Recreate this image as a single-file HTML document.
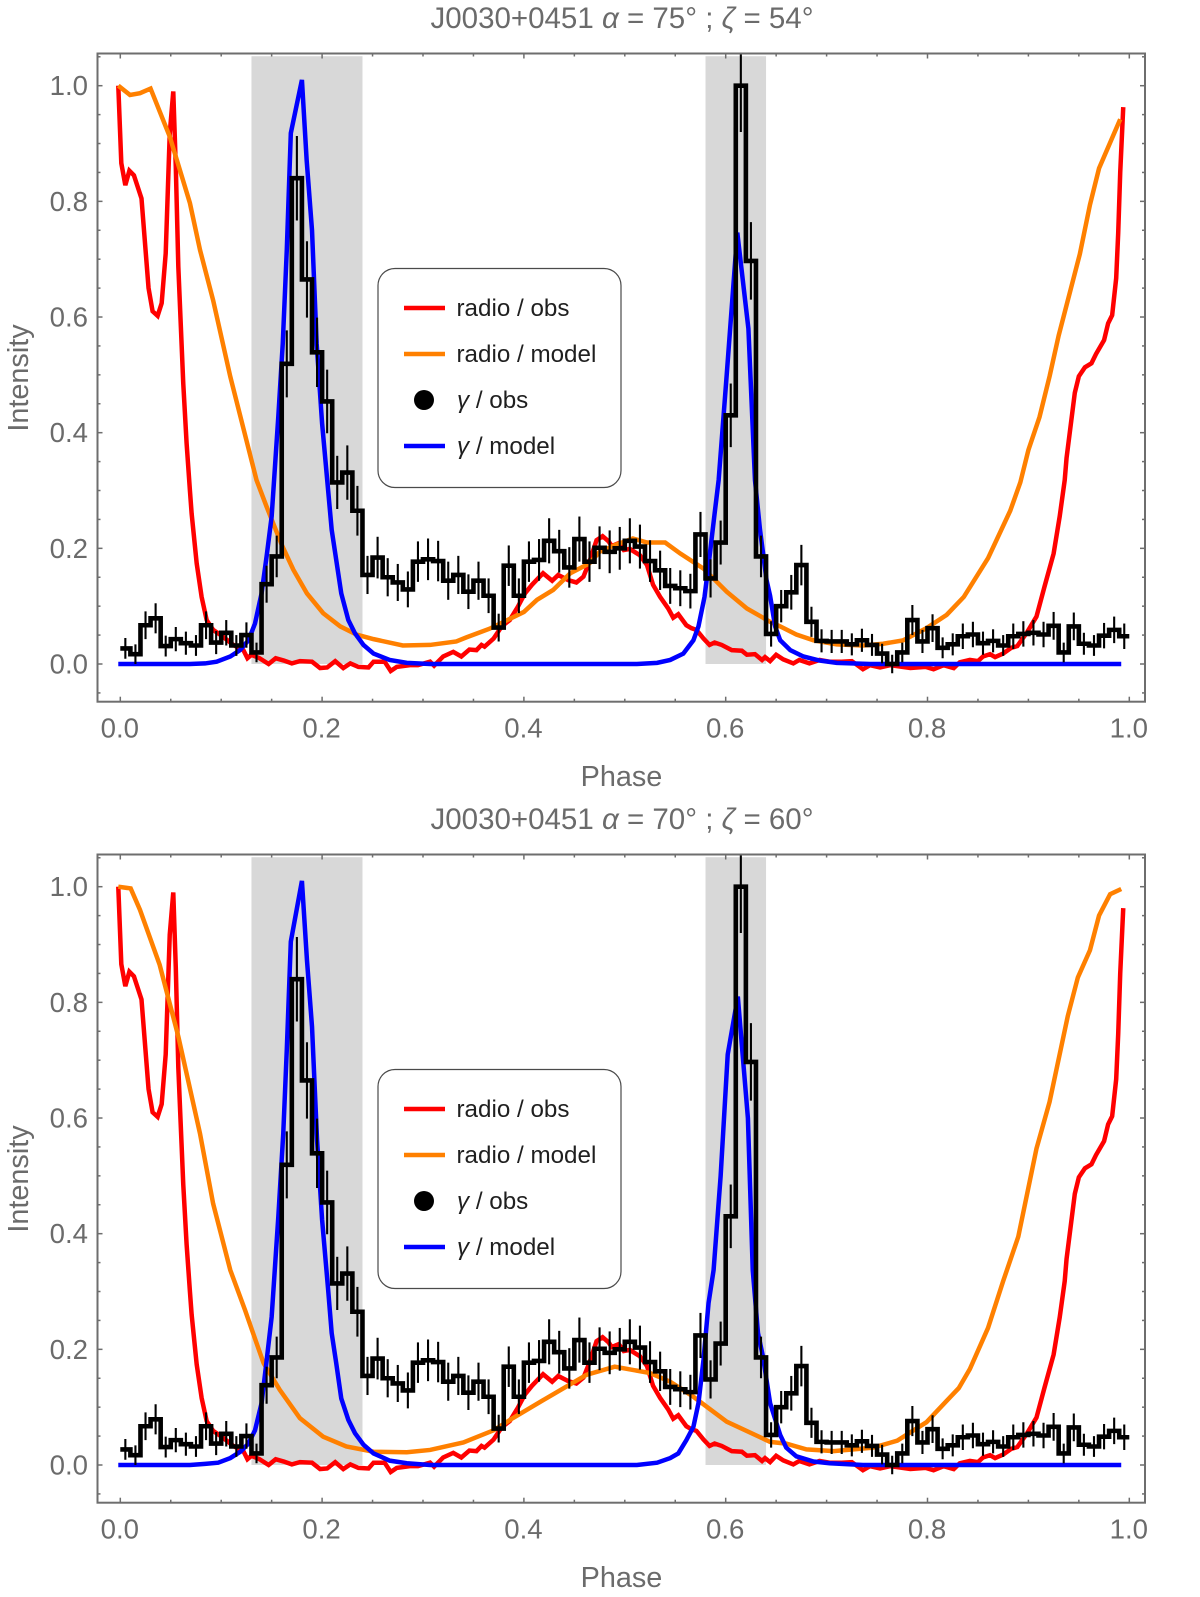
<!DOCTYPE html>
<html lang="en">
<head>
<meta charset="utf-8">
<title>J0030+0451 pulse profiles</title>
<style>
html,body{margin:0;padding:0;background:#fff;}
svg{display:block;font-family:"Liberation Sans",sans-serif;}
.tick-label{font-size:27.6px;fill:#6b6b6b;}
.axis-title{font-size:28.8px;fill:#6b6b6b;}
.chart-title{font-size:29.5px;fill:#6b6b6b;}
.legend-text{font-size:24.2px;fill:#1f1f1f;}
</style>
</head>
<body>
<svg id="figure" xmlns="http://www.w3.org/2000/svg" width="1200" height="1597" viewBox="0 0 1200 1597">
  <rect width="1200" height="1597" fill="#fff"/>
  <g id="panel-top">
    <text class="chart-title" x="622" y="28" text-anchor="middle">J0030+0451 <tspan font-style="italic">α</tspan> = 75° ; <tspan font-style="italic">ζ</tspan> = 54°</text>
    <g class="marks"></g>
    <g>
      <rect x="378" y="268.5" width="243" height="219" rx="17" fill="#fff" stroke="#4a4a4a" stroke-width="1.2"/>
      <line x1="404" x2="445" y1="308" y2="308" stroke="#ff0000" stroke-width="4.4"/>
      <text class="legend-text" x="456.5" y="316">radio / obs</text>
      <line x1="404" x2="445" y1="354" y2="354" stroke="#ff8000" stroke-width="4.4"/>
      <text class="legend-text" x="456.5" y="362">radio / model</text>
      <circle cx="424" cy="400" r="10" fill="#000"/>
      <text class="legend-text" x="457" y="408"><tspan font-style="italic">γ</tspan> / obs</text>
      <line x1="404" x2="445" y1="446" y2="446" stroke="#0000ff" stroke-width="4.4"/>
      <text class="legend-text" x="457" y="454"><tspan font-style="italic">γ</tspan> / model</text>
    </g>
  </g>
  <g id="panel-bottom" transform="translate(0,801)">
    <text class="chart-title" x="622" y="28" text-anchor="middle">J0030+0451 <tspan font-style="italic">α</tspan> = 70° ; <tspan font-style="italic">ζ</tspan> = 60°</text>
    <g class="marks"></g>
    <g>
      <rect x="378" y="268.5" width="243" height="219" rx="17" fill="#fff" stroke="#4a4a4a" stroke-width="1.2"/>
      <line x1="404" x2="445" y1="308" y2="308" stroke="#ff0000" stroke-width="4.4"/>
      <text class="legend-text" x="456.5" y="316">radio / obs</text>
      <line x1="404" x2="445" y1="354" y2="354" stroke="#ff8000" stroke-width="4.4"/>
      <text class="legend-text" x="456.5" y="362">radio / model</text>
      <circle cx="424" cy="400" r="10" fill="#000"/>
      <text class="legend-text" x="457" y="408"><tspan font-style="italic">γ</tspan> / obs</text>
      <line x1="404" x2="445" y1="446" y2="446" stroke="#0000ff" stroke-width="4.4"/>
      <text class="legend-text" x="457" y="454"><tspan font-style="italic">γ</tspan> / model</text>
    </g>
  </g>
</svg>
<script>
const xTickLabels = ["0.0", "0.2", "0.4", "0.6", "0.8", "1.0"];
const xTickValues = [0, 0.2, 0.4, 0.6, 0.8, 1];
const yTickLabels = ["0.0", "0.2", "0.4", "0.6", "0.8", "1.0"];
const yTickValues = [0, 0.2, 0.4, 0.6, 0.8, 1];
const shadedBandStart = [0.13, 0.58];
const shadedBandEnd = [0.24, 0.64];
const gammaBinWidth = 0.01;
const gammaObsIntensity = [.027,.017,.067,.079,.031,.043,.036,.032,.067,.037,.054,.032,.05,.02,.138,.186,.519,.84,.665,.539,.454,.314,.331,.265,.154,.184,.15,.141,.129,.177,.181,.178,.144,.154,.125,.144,.118,.063,.17,.118,.177,.18,.213,.195,.167,.216,.177,.201,.194,.2,.213,.203,.178,.162,.135,.131,.126,.224,.148,.21,.43,1.0,.697,.186,.052,.10,.124,.171,.073,.04,.039,.039,.034,.041,.033,.018,0,.02,.076,.039,.062,.028,.034,.048,.051,.036,.04,.032,.048,.052,.054,.051,.066,.02,.065,.035,.032,.049,.059,.048];
const gammaObsError = [.018,.017,.024,.026,.018,.021,.02,.018,.024,.02,.022,.018,.022,.017,.032,.036,.058,.073,.066,.06,.055,.046,.047,.043,.033,.036,.033,.032,.031,.035,.036,.035,.033,.033,.03,.033,.03,.024,.035,.03,.035,.036,.039,.037,.035,.039,.035,.037,.037,.037,.039,.038,.036,.034,.031,.031,.03,.039,.033,.038,.055,.08,.067,.036,.022,.028,.03,.035,.026,.02,.02,.02,.019,.02,.019,.017,.016,.017,.026,.02,.024,.018,.019,.022,.022,.02,.02,.018,.022,.022,.022,.022,.024,.017,.024,.019,.018,.022,.023,.022];
const radioObsPhase = [-.002,.001,.005,.009,.0135,.021,.028,.032,.037,.041,.045,.049,.0525,.055,.0575,.0624,.0657,.069,.0707,.0757,.0806,.0856,.092,.102,.112,.122,.126,.13,.138,.147,.154,.162,.17,.178,.19,.198,.205,.213,.221,.228,.236,.246,.251,.262,.268,.274,.287,.295,.307,.311,.32,.33,.338,.346,.353,.358,.361,.37,.378,.386,.394,.401,.408,.419,.428,.434,.444,.452,.459,.465,.472,.478,.484,.487,.494,.499,.505,.515,.522,.528,.535,.543,.548,.553,.561,.566,.571,.578,.584,.589,.596,.606,.616,.621,.629,.636,.639,.644,.65,.657,.667,.673,.683,.693,.703,.715,.725,.736,.743,.753,.763,.783,.798,.806,.816,.826,.832,.842,.85,.855,.862,.867,.875,.883,.889,.898,.908,.916,.925,.931,.936,.9378,.946,.95,.956,.9625,.967,.975,.979,.983,.987,.989,.991,.994];
const radioObsIntensity = [1,.866,.828,.853,.845,.805,.65,.61,.602,.624,.71,.917,.99,.86,.687,.485,.382,.3,.26,.174,.116,.076,.059,.047,.033,.024,.01,.016,.01,0,.01,.006,.001,.005,.004,-.007,-.006,.005,-.007,.001,-.005,-.006,.004,.004,-.012,-.005,-.002,-.002,.004,-.003,.013,.021,.013,.025,.024,.033,.03,.044,.065,.076,.099,.122,.137,.157,.144,.154,.145,.141,.151,.177,.214,.221,.212,.204,.209,.197,.199,.188,.171,.137,.116,.096,.08,.086,.067,.062,.059,.044,.033,.037,.033,.024,.023,.016,.017,.007,.012,.005,.016,.008,.001,.007,.001,.007,.004,.004,.005,-.009,-.002,-.006,-.002,-.007,-.005,-.009,-.002,-.007,.003,.007,.005,.013,.017,.012,.018,.028,.031,.053,.082,.134,.191,.255,.318,.356,.469,.4975,.513,.52,.536,.56,.589,.603,.667,.745,.85,.963];
const gammaModelTopPhase = [-.002,.069,.084,.0955,.109,.1186,.127,.1335,.14,.145,.15,.1566,.161,.165,.169,.18,.1847,.19,.1946,.2,.206,.2095,.214,.219,.226,.2326,.241,.251,.267,.284,.307,.512,.532,.545,.558,.568,.573,.579,.584,.589,.593,.601,.6115,.6225,.629,.634,.6405,.644,.649,.654,.664,.677,.693,.71,.743,.992];
const gammaModelTopIntensity = [0,0,.001,.004,.013,.024,.041,.07,.122,.186,.255,.428,.554,.716,.918,1.01,.871,.75,.554,.416,.3,.232,.18,.122,.076,.053,.033,.018,.007,.002,0,0,.002,.007,.018,.041,.065,.116,.186,.26,.318,.5,.746,.58,.318,.232,.145,.118,.065,.041,.024,.013,.006,.002,0,0];
const radioModelTopPhase = [-.002,.0096,.0195,.03,.049,.069,.079,.092,.109,.135,.145,.16,.1715,.185,.201,.218,.234,.251,.28,.307,.333,.343,.366,.4,.413,.429,.446,.465,.475,.491,.508,.522,.54,.555,.578,.601,.621,.644,.654,.67,.687,.71,.736,.756,.776,.799,.819,.836,.86,.882,.892,.9,.911,.921,.93,.951,.961,.97,.991];
const radioModelTopIntensity = [1,.984,.987,.995,.912,.797,.716,.629,.497,.318,.272,.206,.163,.122,.088,.065,.051,.043,.032,.033,.039,.046,.061,.09,.111,.128,.157,.174,.194,.206,.217,.21,.21,.191,.165,.125,.096,.073,.065,.051,.041,.034,.032,.035,.041,.062,.085,.116,.183,.265,.314,.37,.427,.4975,.568,.709,.794,.857,.942];
const gammaModelBottomPhase = [-.002,.069,.084,.097,.109,.119,.127,.1335,.14,.145,.15,.1566,.1615,.165,.169,.18,.185,.19,.195,.2,.206,.2095,.214,.219,.226,.2326,.241,.251,.267,.284,.307,.512,.532,.545,.553,.561,.568,.573,.578,.583,.588,.595,.602,.612,.622,.6268,.632,.637,.644,.654,.66,.67,.687,.703,.736,.992];
const gammaModelBottomIntensity = [0,0,.002,.004,.012,.023,.037,.06,.107,.18,.256,.429,.573,.718,.905,1.01,.873,.758,.562,.424,.303,.228,.176,.115,.078,.055,.035,.02,.0075,.003,0,0,.004,.012,.02,.043,.066,.107,.182,.28,.337,.5,.71,.81,.6,.337,.228,.187,.107,.052,.03,.015,.006,.003,0,0];
const radioModelBottomPhase = [-.002,.0103,.0195,.039,.0575,.079,.092,.109,.1236,.142,.158,.178,.201,.224,.251,.284,.307,.34,.37,.389,.419,.462,.49,.525,.545,.568,.601,.644,.66,.68,.707,.746,.77,.799,.819,.831,.842,.86,.875,.89,.908,.921,.939,.949,.961,.97,.981,.992];
const radioModelBottomIntensity = [1,.997,.96,.865,.741,.573,.452,.337,.268,.176,.13,.081,.049,.032,.023,.022,.026,.039,.06,.081,.112,.156,.17,.159,.144,.118,.075,.04,.037,.027,.024,.03,.042,.074,.111,.133,.166,.237,.318,.395,.547,.628,.776,.843,.89,.95,.987,.996];

const NS = "http://www.w3.org/2000/svg";
const plotLeft = 97.5, plotRight = 1147.8, plotTop = 53.5, plotBottom = 701.7;
const xScale = p => 120.3 + 1009 * p;
const yScale = v => 664 - 578.3 * v;
const bandTopValue = 1.051;

function make(tag, attrs, parent) {
  const el = document.createElementNS(NS, tag);
  for (const k in attrs) el.setAttribute(k, attrs[k]);
  parent.appendChild(el);
  return el;
}
function linePath(xs, ys) {
  return xs.map((x, i) => (i ? "L" : "M") + xScale(x).toFixed(2) + " " + yScale(ys[i]).toFixed(2)).join("");
}
function stepPath(values) {
  let d = "";
  values.forEach((v, i) => {
    const y = yScale(v).toFixed(2);
    d += (i ? "L" : "M") + xScale(i * gammaBinWidth).toFixed(2) + " " + y;
    d += "L" + xScale((i + 1) * gammaBinWidth).toFixed(2) + " " + y;
  });
  return d;
}

function drawPanel(root, clipId, radioModelPhase, radioModelIntensity, gammaModelPhase, gammaModelIntensity) {
  const g = root.querySelector(".marks");
  const defs = make("defs", {}, g);
  const clip = make("clipPath", { id: clipId }, defs);
  make("rect", { x: plotLeft, y: plotTop, width: plotRight - plotLeft, height: plotBottom - plotTop }, clip);

  shadedBandStart.forEach((start, i) => {
    const band = make("rect", {
      x: xScale(start), y: yScale(bandTopValue),
      width: xScale(shadedBandEnd[i]) - xScale(start),
      height: yScale(0) - yScale(bandTopValue), fill: "#d8d8d8"
    }, g);
    
    
  });

  const plot = make("g", { "clip-path": "url(#" + clipId + ")", fill: "none", "stroke-linejoin": "miter" }, g);
  
  

  const radioObs = make("path", { d: linePath(radioObsPhase, radioObsIntensity), stroke: "#ff0000", "stroke-width": 4.5 }, plot);
  
  

  const radioModel = make("path", { d: linePath(radioModelPhase, radioModelIntensity), stroke: "#ff8000", "stroke-width": 4.5 }, plot);
  
  

  const gammaModel = make("path", { d: linePath(gammaModelPhase, gammaModelIntensity), stroke: "#0000ff", "stroke-width": 4.5 }, plot);
  
  

  gammaObsIntensity.forEach((v, i) => {
    const cx = xScale((i + 0.5) * gammaBinWidth);
    const bar = make("line", {
      x1: cx, x2: cx, y1: yScale(v - gammaObsError[i]), y2: yScale(v + gammaObsError[i]),
      stroke: "#000", "stroke-width": 2.1
    }, plot);
    
    
  });

  const gammaObs = make("path", { d: stepPath(gammaObsIntensity), stroke: "#000", "stroke-width": 4.6 }, plot);
  
  

  const frame = make("rect", {
    x: plotLeft, y: plotTop, width: 1047.5, height: plotBottom - plotTop,
    fill: "none", stroke: "#6e6e6e", "stroke-width": 2
  }, g);
  
  

  const ticks = make("g", { stroke: "#6e6e6e", "stroke-width": 1.5 }, g);
  
  
  for (let k = 0; k <= 20; k++) {
    const len = k % 4 === 0 ? 5 : 3;
    const x = xScale(k * 0.05);
    make("line", { x1: x, x2: x, y1: plotBottom, y2: plotBottom - len }, ticks);
    make("line", { x1: x, x2: x, y1: plotTop, y2: plotTop + len }, ticks);
  }
  for (let k = -1; k <= 21; k++) {
    const len = k % 4 === 0 ? 5 : 3;
    const y = yScale(k * 0.05);
    make("line", { x1: plotLeft, x2: plotLeft + len, y1: y, y2: y }, ticks);
    make("line", { x1: 1145, x2: 1145 - len, y1: y, y2: y }, ticks);
  }

  xTickValues.forEach((v, i) => {
    const t = make("text", { class: "tick-label", x: xScale(v) - 0.5, y: 737.5, "text-anchor": "middle" }, g);
    t.textContent = xTickLabels[i];
    
    
  });
  yTickValues.forEach((v, i) => {
    const t = make("text", { class: "tick-label", x: 88, y: yScale(v) + 9.5, "text-anchor": "end" }, g);
    t.textContent = yTickLabels[i];
    
    
  });

  const xTitle = make("text", { class: "axis-title", x: 621.5, y: 786, "text-anchor": "middle" }, g);
  xTitle.textContent = "Phase";
  
  

  const yTitle = make("text", { class: "axis-title", x: 0, y: 0, "text-anchor": "middle", transform: "translate(28,378) rotate(-90)" }, g);
  yTitle.textContent = "Intensity";
  
  
}

drawPanel(document.getElementById("panel-top"), "clip-top", radioModelTopPhase, radioModelTopIntensity, gammaModelTopPhase, gammaModelTopIntensity);
drawPanel(document.getElementById("panel-bottom"), "clip-bottom", radioModelBottomPhase, radioModelBottomIntensity, gammaModelBottomPhase, gammaModelBottomIntensity);
</script>
</body>
</html>
